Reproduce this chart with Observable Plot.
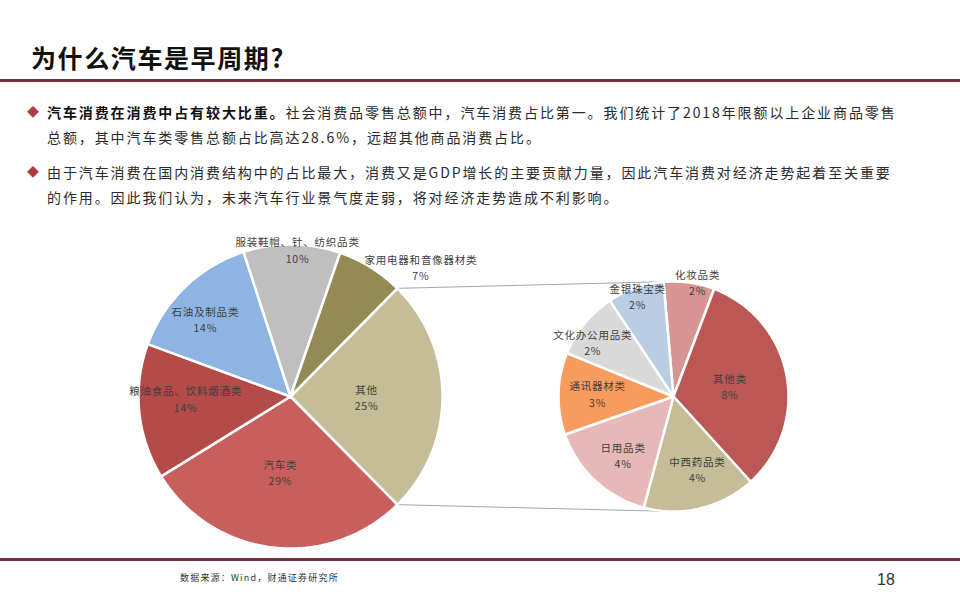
<!DOCTYPE html>
<html>
<head>
<meta charset="utf-8">
<script src="https://cdn.jsdelivr.net/npm/d3@7"></script>
<script src="https://cdn.jsdelivr.net/npm/@observablehq/plot@0.6"></script>
<style>
  html, body { margin: 0; padding: 0; background: #fff; }
  body { font-family: "Noto Sans CJK SC", sans-serif; }
  #page { position: relative; width: 960px; height: 600px; overflow: hidden; background: #fff; }
  .title { position: absolute; left: 31px; top: 40px; font-size: 25px; line-height: 34px; font-weight: 700; letter-spacing: 1.6px; color: #111; white-space: nowrap; }
  .rule { position: absolute; left: 0; width: 960px; height: 3px; background: #7a2d3b; }
  .line { position: absolute; left: 47px; font-size: 14px; line-height: 20px; letter-spacing: 1.9px; color: #2a2a2a; white-space: nowrap; }
  .line b { font-weight: 700; color: #111; }
  .dia { position: absolute; left: 27px; font-size: 12px; line-height: 20px; color: #b23a45; }
  #chart { position: absolute; left: 0; top: 220px; }
  #chart text { letter-spacing: 0.8px; }
  .src { position: absolute; left: 180px; top: 571px; font-size: 9px; line-height: 14px; letter-spacing: 1.2px; color: #333; white-space: nowrap; }
  .pg { position: absolute; left: 877px; top: 570px; font-size: 16px; line-height: 20px; color: #333; font-family: "Liberation Sans", Arial, sans-serif; }
</style>
</head>
<body>
<div id="page">
  <div class="title">为什么汽车是早周期?</div>
  <div class="rule" style="top:79px"></div>

  <div class="dia" style="top:102px">◆</div>
  <div class="line" style="top:102px"><b>汽车消费在消费中占有较大比重。</b>社会消费品零售总额中，汽车消费占比第一。我们统计了2018年限额以上企业商品零售</div>
  <div class="line" style="top:127px">总额，其中汽车类零售总额占比高达28.6%，远超其他商品消费占比。</div>
  <div class="dia" style="top:162px">◆</div>
  <div class="line" style="top:162px">由于汽车消费在国内消费结构中的占比最大，消费又是GDP增长的主要贡献力量，因此汽车消费对经济走势起着至关重要</div>
  <div class="line" style="top:187px">的作用。因此我们认为，未来汽车行业景气度走弱，将对经济走势造成不利影响。</div>

  <div id="chart"></div>

  <div class="rule" style="top:558px"></div>
  <div class="src">数据来源：Wind，财通证券研究所</div>
  <div class="pg">18</div>
</div>
<script>
// ---------- data ----------
const bigNames = ["其他", "汽车类", "粮油食品、饮料烟酒类", "石油及制品类", "服装鞋帽、针、纺织品类", "家用电器和音像器材类"];
const bigValues = [25.2, 28.6, 14.4, 14.4, 10.3, 7.1];
const smallNames = ["化妆品类", "其他类", "中西药品类", "日用品类", "通讯器材类", "文化办公用品类", "金银珠宝类"];
const smallValues = [1.8, 8.2, 4.0, 3.9, 2.9, 2.4, 2.0];

// ---------- styles / layout ----------
const bigColors = ["#c4bd97", "#c85f5d", "#b44b48", "#8db4e2", "#bfbfbf", "#948a54"];
const smallColors = ["#d99594", "#bb5855", "#c4bd97", "#e6b9b8", "#f79b5f", "#d9d9d9", "#b9cde5"];
const W = 960, H = 335;
const big = {cx: 290, cy: 176, r: 152};
const small = {cx: 673, cy: 176, r: 115};
const deg = Math.PI / 180;
const smallStart = -5 * deg;
// label placement: [angle offset in degrees from slice middle, radius fraction]
const bigLabelPlace = [[0, 0.5], [0.8, 0.5], [4.8, 0.69], [-3.6, 0.76], [2.2, 0.97], [13.3, 1.21]];
const smallLabelPlace = [[4, 1.02], [0, 0.5], [-4.8, 0.66], [-2, 0.67], [1, 0.66], [-5, 0.85], [-0.3, 0.93]];

const polar = (c, a, rr) => ({x: c.cx + rr * Math.sin(a), y: c.cy - rr * Math.cos(a)});
const bigTotal = d3.sum(bigValues);

function slices(names, values, c, start) {
  const arcs = d3.pie().sort(null).value(d => d).startAngle(start).endAngle(start + 2 * Math.PI)(values);
  return arcs.map((a, i) => ({name: names[i], value: values[i], a0: a.startAngle, a1: a.endAngle, c}));
}
function polygonPoints(sl) {
  const pts = [];
  for (const s of sl) {
    pts.push({name: s.name, ...polar(s.c, 0, 0)});
    const n = Math.max(2, Math.ceil((s.a1 - s.a0) / deg));
    for (let k = 0; k <= n; k++) {
      const a = s.a0 + (s.a1 - s.a0) * k / n;
      pts.push({name: s.name, ...polar(s.c, a, s.c.r)});
    }
  }
  return pts;
}
function labels(sl, place) {
  return sl.map((s, i) => {
    const [da, f] = place[i];
    const p = polar(s.c, (s.a0 + s.a1) / 2 + da * deg, f * s.c.r);
    return {...p, text: s.name + "\n" + Math.round(s.value / bigTotal * 100) + "%"};
  });
}

const otherFrac = bigValues[0] / bigTotal;
const bigStart = Math.PI / 2 - otherFrac * Math.PI;   // "其他" centred at 3 o'clock

const bigSlices = slices(bigNames, bigValues, big, bigStart);
const smallSlices = slices(smallNames, smallValues, small, smallStart);
const bigLabels = labels(bigSlices, bigLabelPlace);
const smallLabels = labels(smallSlices, smallLabelPlace);

const other = bigSlices[0];
const pTop = polar(big, other.a0, big.r), pBot = polar(big, other.a1, big.r);
const qTop = polar(small, 0, small.r), qBot = polar(small, Math.PI, small.r);
const connectors = [
  {x1: pTop.x, y1: pTop.y, x2: qTop.x, y2: qTop.y},
  {x1: pBot.x, y1: pBot.y, x2: qBot.x, y2: qBot.y}
];

const chart = Plot.plot({
  width: W, height: H,
  margin: 0,
  x: {domain: [0, W], range: [0, W], axis: null},
  y: {domain: [0, H], range: [0, H], axis: null},
  color: {type: "ordinal", domain: [...bigNames, ...smallNames], range: [...bigColors, ...smallColors]},
  style: {background: "transparent", overflow: "visible"},
  marks: [
    Plot.link(connectors, {x1: "x1", y1: "y1", x2: "x2", y2: "y2", stroke: "#a6a6a6", strokeWidth: 1}),
    Plot.line(polygonPoints(bigSlices), {x: "x", y: "y", z: "name", fill: "name", stroke: "#ffffff", strokeWidth: 2.5, curve: "linear-closed", strokeLinejoin: "miter"}),
    Plot.line(polygonPoints(smallSlices), {x: "x", y: "y", z: "name", fill: "name", stroke: "#ffffff", strokeWidth: 2.5, curve: "linear-closed", strokeLinejoin: "miter"}),
    Plot.text([...bigLabels, ...smallLabels], {x: "x", y: "y", text: "text", fontSize: 10.5, lineHeight: 1.55, fill: "#404040", fontFamily: "Noto Sans CJK SC"})
  ]
});
document.getElementById("chart").appendChild(chart);
</script>
</body>
</html>
